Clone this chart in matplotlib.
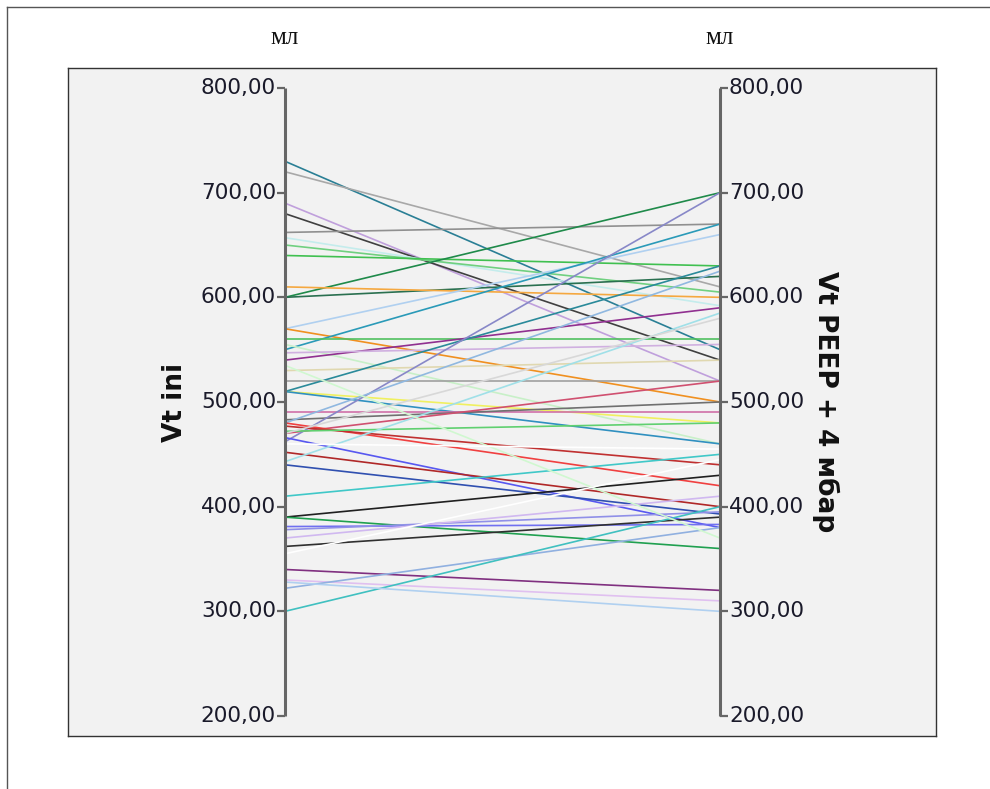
import matplotlib
matplotlib.use("Agg")
import matplotlib.pyplot as plt
from matplotlib.lines import Line2D

# Tidal volume per patient: initial vs. PEEP + 4 mbar (ml)
vt_ini = [730, 720, 690, 680, 662, 657, 650, 640, 600, 600,
          610, 570, 570, 550, 560, 555, 540, 547, 530, 520,
          510, 510, 510, 490, 483, 470, 462, 480, 480, 477,
          472, 466, 452, 443, 440, 410, 390, 390, 381, 378,
          370, 362, 340, 330, 322, 300, 328, 535, 470, 355, 460]
vt_peep = [550, 610, 520, 540, 670, 592, 605, 630, 700, 620,
           600, 660, 500, 670, 560, 460, 590, 555, 540, 520,
           630, 480, 460, 490, 500, 520, 700, 625, 420, 440,
           480, 380, 400, 585, 393, 450, 430, 360, 383, 395,
           410, 390, 320, 310, 380, 400, 300, 370, 580, 445, 455]
line_colors = ['#2a7f95', '#a8a8a8', '#c0a0dc', '#404040', '#909090',
               '#c4ecec', '#70d080', '#40c050', '#1f8a4a', '#2a7050',
               '#f5a840', '#b0d0f0', '#f09020', '#2a9ab8', '#50c060',
               '#c8f0c8', '#903090', '#d0b0e0', '#e0d8b0', '#a0a0a0',
               '#2a8a9a', '#f0f060', '#3090c0', '#d070a8', '#707070',
               '#d05070', '#8888c8', '#90b8e0', '#f04040', '#c03030',
               '#60d070', '#5858f0', '#b02828', '#a0e0e8', '#3050b0',
               '#40c8c8', '#202020', '#20a050', '#7070f0', '#9090e8',
               '#d0b8f0', '#303030', '#803080', '#e0c0f0', '#90b0e0',
               '#40c0c0', '#b0d0f0', '#d0f8d0', '#d8d8d8', '#ffffff',
               '#ffffff']
tick_values = [200, 300, 400, 500, 600, 700, 800]
left_title = "Vt ini"
right_title = "Vt PEEP + 4 мбар"
unit = "мл"

W, H = 990, 789
fig = plt.figure(figsize=(W / 100, H / 100), dpi=100)
fig.patch.set_facecolor('white')

def fx(px):
    return px / W

def fy(py):
    return 1 - py / H

# thin frame along the top and left edges of the canvas
fig.add_artist(Line2D([fx(7), fx(7)], [fy(7), 0], transform=fig.transFigure,
                      color='#555555', lw=1.0))
fig.add_artist(Line2D([fx(7), 1], [fy(7), fy(7)], transform=fig.transFigure,
                      color='#555555', lw=1.0))

# inner plotting panel
box_l, box_r, box_t, box_b = 68, 936, 68, 736
ax = fig.add_axes([fx(box_l), fy(box_b), fx(box_r - box_l), (box_b - box_t) / H])
ax.set_facecolor('#f2f2f2')
for s in ax.spines.values():
    s.set_color('#333333')
    s.set_linewidth(1.0)
ax.set_xticks([])
ax.set_yticks([])

x_left_px, x_right_px = 285, 720
span = x_right_px - x_left_px
ax.set_xlim((box_l - x_left_px) / span, (box_r - x_left_px) / span)
px_per_unit = (716 - 88) / 600
ax.set_ylim(200 - 20 / px_per_unit, 800 + 20 / px_per_unit)

for a, b, c in zip(vt_ini, vt_peep, line_colors):
    ax.plot([0, 1], [a, b], color=c, lw=1.2, solid_capstyle='butt', zorder=2)

# the two parallel axes
ymin, ymax = min(tick_values), max(tick_values)
tick_len = 8 / span
for xa, sign in ((0, -1), (1, 1)):
    ax.plot([xa, xa], [ymin, ymax], color='#666666', lw=2.2, zorder=3,
            solid_capstyle='butt')
    for v in tick_values:
        ax.plot([xa, xa + sign * tick_len], [v, v], color='#666666', lw=1.6,
                zorder=3, solid_capstyle='butt')
        ax.text(xa + sign * (tick_len + 1 / span), v,
                f"{v},00", ha='right' if sign < 0 else 'left', va='center',
                fontsize=15.5, color='#1a1a2a', family='DejaVu Sans', zorder=4)

ax.text((175 - x_left_px) / span, 500, left_title, rotation=90, ha='center',
        va='center', fontsize=19, fontweight='bold', color='#111111')
ax.text((826 - x_left_px) / span, 500, right_title, rotation=270, ha='center',
        va='center', fontsize=19, fontweight='bold', color='#111111')

for px in (x_left_px, x_right_px):
    fig.text(fx(px), fy(38), unit, ha='center', va='center', fontsize=18,
             family='Liberation Serif', color='#111111')

fig.savefig('out.png', dpi=100)
